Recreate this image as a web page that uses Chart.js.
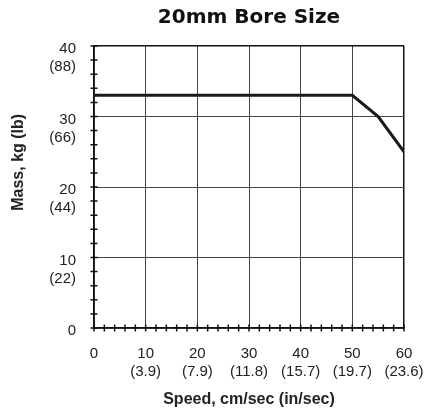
<!DOCTYPE html>
<html>
<head>
<meta charset="utf-8">
<script src="https://cdn.jsdelivr.net/npm/chart.js@4/dist/chart.umd.min.js"></script>
<style>
  html, body { margin: 0; padding: 0; background: #fff; }
  #wrap { width: 426px; height: 413px; }
</style>
</head>
<body>
<div id="wrap"><canvas id="myChart" width="426" height="413"></canvas></div>
<script>
let speeds = [0, 50, 55, 60];
let masses = [33, 33, 30, 25];

let xTicks = {0: ['0'], 10: ['10', '(3.9)'], 20: ['20', '(7.9)'], 30: ['30', '(11.8)'], 40: ['40', '(15.7)'], 50: ['50', '(19.7)'], 60: ['60', '(23.6)']};
let yTicks = {0: ['0', ''], 10: ['10', '(22)'], 20: ['20', '(44)'], 30: ['30', '(66)'], 40: ['40', '(88)']};

let yTitle = 'Mass, kg (lb)';

let points = speeds.map((s, i) => ({x: s, y: masses[i]}));

// small ticks every 2 units, crossing the axis lines, plus the y title
let extras = {
  id: 'extras',
  afterDatasetsDraw(chart) {
    let c = chart.ctx, xs = chart.scales.x, ys = chart.scales.y;
    let x0 = xs.getPixelForValue(0), y0 = ys.getPixelForValue(0);
    c.save();
    c.strokeStyle = '#111';
    c.lineWidth = 1.5;
    c.beginPath();
    for (let v = 0; v <= 60; v += 2) {
      let px = xs.getPixelForValue(v);
      c.moveTo(px, y0 - 3.5);
      c.lineTo(px, y0 + 3.5);
    }
    for (let v = 0; v <= 40; v += 2) {
      let py = ys.getPixelForValue(v);
      c.moveTo(x0 - 3.5, py);
      c.lineTo(x0 + 3.5, py);
    }
    c.stroke();

    c.translate(19, ys.getPixelForValue(23.5));
    c.rotate(-Math.PI / 2);
    c.fillStyle = '#222';
    c.font = 'bold 16px "Liberation Sans"';
    c.textAlign = 'center';
    c.textBaseline = 'middle';
    c.fillText(yTitle, 0, 0);
    c.restore();
  }
};

let ctx = document.getElementById('myChart').getContext('2d');

let myChart = new Chart(ctx, {
  type: 'line',
  data: {
    datasets: [{
      data: points,
      borderColor: '#1a1a1a',
      borderWidth: 3,
      pointRadius: 0,
      tension: 0,
      fill: false
    }]
  },
  options: {
    responsive: false,
    animation: false,
    layout: { padding: { left: 4, right: 22, top: 0, bottom: 0 } },
    plugins: {
      legend: { display: false },
      tooltip: { enabled: false },
      title: {
        display: true,
        fullSize: false,
        text: '20mm Bore Size',
        color: '#111',
        font: { family: 'DejaVu Sans', size: 20, weight: 'bold' },
        padding: { top: 6, bottom: 16 }
      }
    },
    scales: {
      x: {
        type: 'linear',
        min: 0,
        max: 60,
        afterFit(s) { s.height = 85; s.paddingLeft = 0; s.paddingRight = 0; },
        grid: {
          drawTicks: false,
          color: ctx => (ctx.tick && ctx.tick.value === 60) ? '#111' : '#444',
          lineWidth: ctx => (ctx.tick && ctx.tick.value === 60) ? 1.5 : 1
        },
        border: { color: '#111', width: 1.5 },
        ticks: {
          stepSize: 10,
          padding: 17,
          maxRotation: 0,
          color: '#222',
          font: { family: 'Liberation Sans', size: 15 },
          callback: v => xTicks[v]
        },
        title: {
          display: true,
          text: 'Speed, cm/sec (in/sec)',
          color: '#222',
          font: { family: 'Liberation Sans', size: 16, weight: 'bold' },
          padding: { top: 0, bottom: 4 }
        }
      },
      y: {
        min: 0,
        max: 40,
        afterFit(s) { s.width = 90; s.paddingTop = 0; s.paddingBottom = 0; },
        grid: {
          drawTicks: false,
          color: ctx => (ctx.tick && ctx.tick.value === 40) ? '#111' : '#444',
          lineWidth: ctx => (ctx.tick && ctx.tick.value === 40) ? 1.5 : 1
        },
        border: { color: '#111', width: 1.5 },
        ticks: {
          stepSize: 10,
          padding: 18,
          labelOffset: 12,
          color: '#222',
          font: { family: 'Liberation Sans', size: 15 },
          callback: v => yTicks[v]
        }
      }
    }
  },
  plugins: [extras]
});
</script>
</body>
</html>
